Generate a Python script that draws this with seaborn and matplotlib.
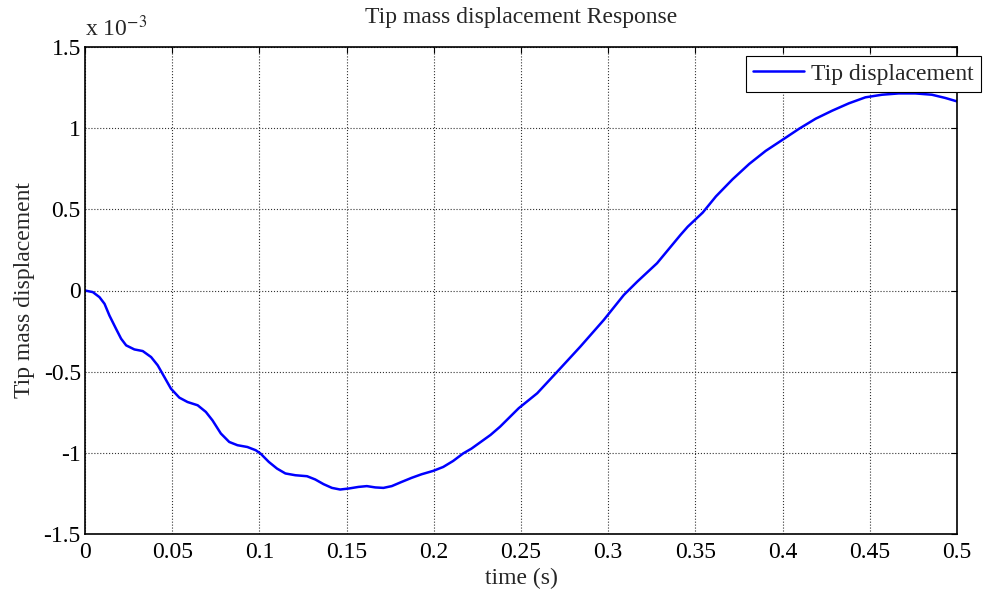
import matplotlib
matplotlib.use("Agg")
import matplotlib.pyplot as plt
import seaborn as sns
import pandas as pd
from matplotlib.ticker import FuncFormatter

time_s = [0, 0.0045, 0.0083, 0.0112, 0.014, 0.0178, 0.0207, 0.0236, 0.0283, 0.0331,
          0.0379, 0.0417, 0.0455, 0.0493, 0.0541, 0.0588, 0.0646, 0.0693, 0.0731, 0.0779,
          0.0827, 0.0874, 0.0931, 0.0979, 0.1006, 0.1054, 0.1101, 0.1149, 0.1206, 0.1273,
          0.132, 0.1368, 0.1416, 0.1463, 0.1511, 0.1568, 0.1616, 0.1664, 0.1711, 0.1759,
          0.1816, 0.1873, 0.193, 0.1997, 0.2054, 0.2111, 0.2168, 0.2216, 0.2325, 0.238,
          0.2487, 0.2593, 0.2708, 0.284, 0.2975, 0.309, 0.3167, 0.328, 0.3415, 0.3456,
          0.3542, 0.3618, 0.3713, 0.3809, 0.3903, 0.3999, 0.4094, 0.4189, 0.4285, 0.438,
          0.4475, 0.457, 0.4666, 0.4761, 0.4856, 0.4933, 0.5]
tip_disp_e3 = [0, -0.010, -0.041, -0.082, -0.154, -0.236, -0.297, -0.338, -0.363, -0.373,
               -0.410, -0.461, -0.533, -0.605, -0.660, -0.687, -0.707, -0.748, -0.800, -0.881,
               -0.933, -0.953, -0.964, -0.984, -1.004, -1.056, -1.097, -1.127, -1.138, -1.144,
               -1.164, -1.193, -1.216, -1.226, -1.220, -1.210, -1.205, -1.213, -1.216, -1.205,
               -1.179, -1.154, -1.132, -1.111, -1.087, -1.050, -1.004, -0.974, -0.890, -0.839,
               -0.725, -0.633, -0.500, -0.346, -0.181, -0.027, 0.055, 0.168, 0.343, 0.393,
               0.480, 0.580, 0.685, 0.780, 0.860, 0.928, 0.996, 1.058, 1.108, 1.153,
               1.190, 1.206, 1.214, 1.214, 1.206, 1.186, 1.165]
x_ticks = [0, 0.05, 0.1, 0.15, 0.2, 0.25, 0.3, 0.35, 0.4, 0.45, 0.5]
y_ticks = [-1.5, -1, -0.5, 0, 0.5, 1, 1.5]

sns.set_style("white")
plt.rcParams['font.family'] = ['Liberation Serif', 'DejaVu Serif']
plt.rcParams['mathtext.fontset'] = 'stix'

df = pd.DataFrame({"time": time_s, "disp": tip_disp_e3})

fig = plt.figure(figsize=(9.85, 5.91), dpi=100)
ax = fig.add_axes([85/985, 1-534/591, (957-85)/985, (534-47)/591])
sns.lineplot(data=df, x="time", y="disp", ax=ax, color=(0, 0, 1), linewidth=1.8,
             label="Tip displacement")

ax.set_xlim(0, 0.5)
ax.set_ylim(-1.5, 1.5)
ax.set_xticks(x_ticks)
ax.set_yticks(y_ticks)
ax.xaxis.set_major_formatter(FuncFormatter(lambda v, p: f"{v:g}"))
ax.yaxis.set_major_formatter(FuncFormatter(lambda v, p: f"{v:g}"))
ax.grid(True, linestyle=':', color='#333333', linewidth=0.8)
ax.tick_params(direction='in', length=4, width=0.8, top=True, right=True,
               labelsize=17, colors='black')
ax.tick_params(axis='x', pad=6)
ax.tick_params(axis='y', pad=3)
for s in ax.spines.values():
    s.set_color('black')
    s.set_linewidth(1.2)

ax.set_xlabel("time (s)", fontsize=17, labelpad=3)
ax.set_ylabel("Tip mass displacement", fontsize=17, labelpad=6)
ax.set_title("Tip mass displacement Response", fontsize=17, pad=17)
ax.text(0, 1.012, r"x 10$^{-3}$", transform=ax.transAxes, fontsize=17,
        ha='left', va='bottom')

leg = ax.legend(loc='upper left', bbox_to_anchor=(746/985, 1-56/591),
                bbox_transform=fig.transFigure, fontsize=17, frameon=True,
                fancybox=False, borderaxespad=0, handlelength=2.15,
                borderpad=0.3, handletextpad=0.3)
leg.get_frame().set_edgecolor('black')
leg.get_frame().set_linewidth(0.8)
leg.get_frame().set_alpha(1)

fig.savefig("out.png", dpi=100)
